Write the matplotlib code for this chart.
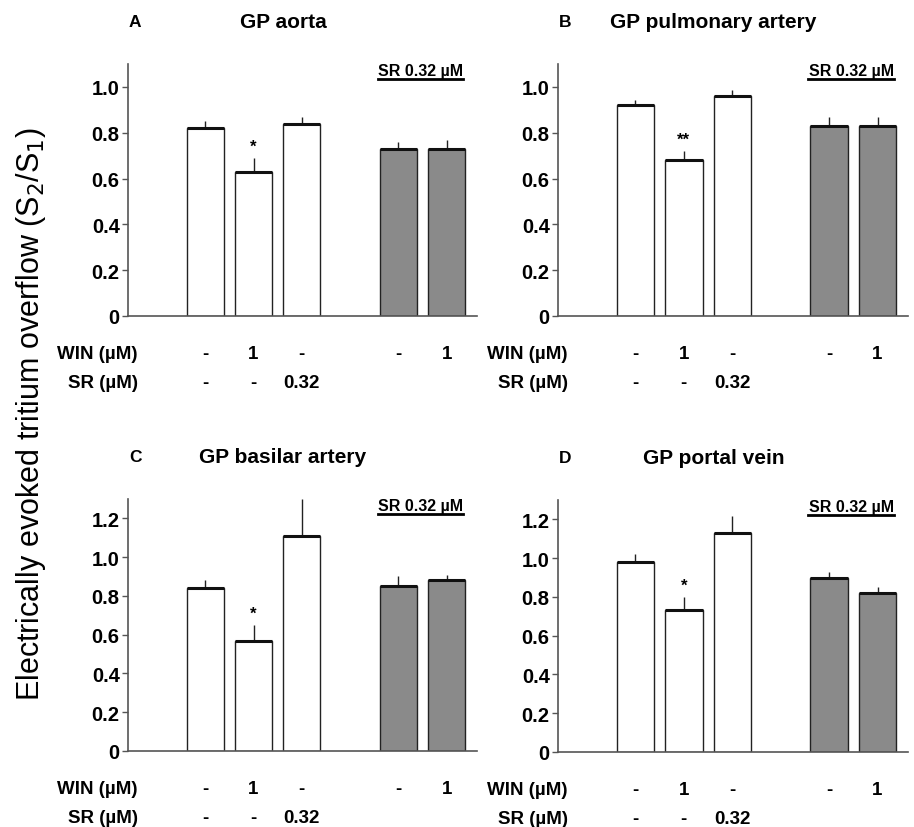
import numpy as np
import matplotlib
matplotlib.use('Agg')
import matplotlib.pyplot as plt
from matplotlib.transforms import blended_transform_factory

plt.rcParams['font.family'] = ['Liberation Sans', 'DejaVu Sans']

# Données (S2/S1), moyenne et borne supérieure de l'erreur
panels = ['A', 'B', 'C', 'D']
titles = ['GP aorta', 'GP pulmonary artery', 'GP basilar artery', 'GP portal vein']
means_A = [0.82, 0.63, 0.84, 0.73, 0.73]
sem_A = [0.03, 0.06, 0.03, 0.03, 0.04]
means_B = [0.92, 0.68, 0.96, 0.83, 0.83]
sem_B = [0.025, 0.04, 0.025, 0.04, 0.04]
means_C = [0.84, 0.57, 1.11, 0.85, 0.88]
sem_C = [0.04, 0.08, 0.19, 0.055, 0.03]
means_D = [0.98, 0.73, 1.13, 0.90, 0.82]
sem_D = [0.04, 0.07, 0.09, 0.03, 0.03]
stars = ['*', '**', '*', '*']
ymax = [1.1, 1.1, 1.3, 1.3]
yticks_AB = [0, 0.2, 0.4, 0.6, 0.8, 1.0]
yticks_CD = [0, 0.2, 0.4, 0.6, 0.8, 1.0, 1.2]
win_labels = ['-', '1', '-', '-', '1']
sr_labels = ['-', '-', '0.32', '', '']

means = [means_A, means_B, means_C, means_D]
sems = [sem_A, sem_B, sem_C, sem_D]
yticks = [yticks_AB, yticks_AB, yticks_CD, yticks_CD]

x = np.array([0, 1, 2, 4, 5])
colors = ['white', 'white', 'white', '#8a8a8a', '#8a8a8a']
w = 0.77

fig = plt.figure(figsize=(9.14, 8.28), dpi=100)
W, H = 914, 828
boxes = [(128, 65, 477, 317), (558, 65, 908, 317),
         (128, 500, 477, 752), (558, 501, 908, 753)]

for i in range(4):
    l, t, r, b = boxes[i]
    ax = fig.add_axes([l / W, 1 - b / H, (r - l) / W, (b - t) / H])
    m = np.array(means[i])
    e = np.array(sems[i])
    ax.bar(x, m, width=w, color=colors, edgecolor='#222222', linewidth=1.0, zorder=2)
    ax.hlines(m, x - w / 2, x + w / 2, color='#111111', linewidth=2.2, zorder=3)
    ax.vlines(x, m, m + e, color='#222222', linewidth=1.0, zorder=1)
    ax.text(x[1], m[1] + e[1] + 0.02, stars[i], ha='center', va='bottom',
            fontsize=12, fontweight='bold')

    ax.set_xlim(-1.6, 5.63)
    ax.set_ylim(0, ymax[i])
    ax.set_yticks(yticks[i])
    ax.set_yticklabels(['0' if v == 0 else f'{v:.1f}' for v in yticks[i]],
                       fontsize=14.5, fontweight='bold')
    ax.set_xticks([])
    for s in ['top', 'right']:
        ax.spines[s].set_visible(False)
    for s in ['left', 'bottom']:
        ax.spines[s].set_color('#555555')
        ax.spines[s].set_linewidth(1.2)
    ax.tick_params(axis='y', length=4, width=1, color='#555555', pad=2)

    tr = blended_transform_factory(ax.transData, ax.transAxes)
    ax.text(-1.45, 1.17, panels[i], transform=tr, ha='center', va='center',
            fontsize=12.5, fontweight='bold')
    ax.text(1.61, 1.17, titles[i], transform=tr, ha='center', va='center',
            fontsize=15, fontweight='bold')

    # bandeau SR 0.32 µM au-dessus des barres grises
    ax.text(4.47, 0.975, 'SR 0.32 µM', transform=tr, ha='center', va='center',
            fontsize=11.5, fontweight='bold')
    ax.plot([3.57, 5.35], [0.94, 0.94], transform=tr, color='black',
            linewidth=2, clip_on=False)

    # lignes de traitements sous l'axe
    ax.text(-1.4, -0.15, 'WIN (µM)', transform=tr, ha='right', va='center',
            fontsize=13.5, fontweight='bold')
    ax.text(-1.4, -0.262, 'SR (µM)', transform=tr, ha='right', va='center',
            fontsize=13.5, fontweight='bold')
    for xi, lab in zip(x, win_labels):
        ax.text(xi, -0.15, lab, transform=tr, ha='center', va='center',
                fontsize=13.5, fontweight='bold')
    for xi, lab in zip(x, sr_labels):
        ax.text(xi, -0.262, lab, transform=tr, ha='center', va='center',
                fontsize=13.5, fontweight='bold')

fig.text(0.034, 0.5, 'Electrically evoked tritium overflow (S$_2$/S$_1$)',
         rotation=90, ha='center', va='center', fontsize=22)

fig.savefig('out.png', dpi=100)
